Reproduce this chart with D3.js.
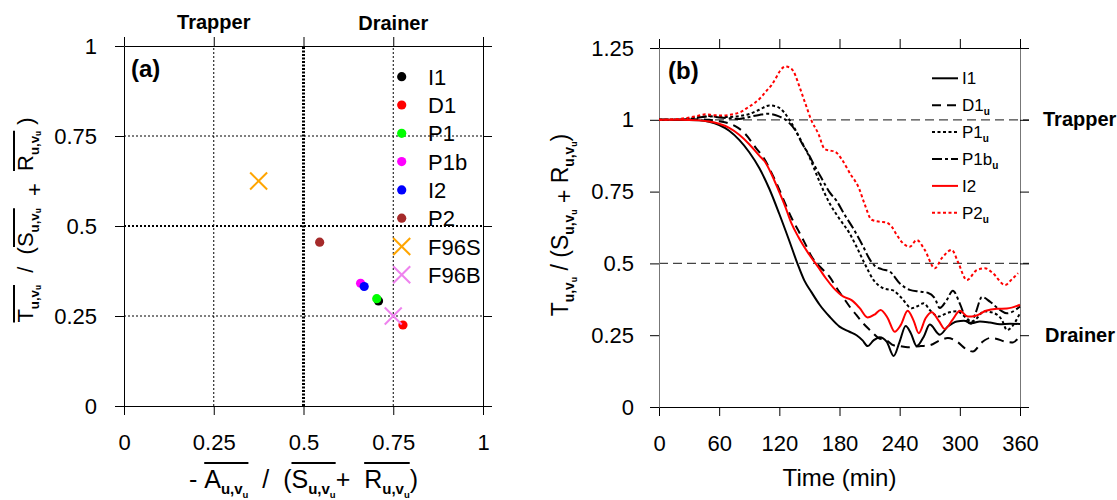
<!DOCTYPE html>
<html>
<head>
<meta charset="utf-8">
<script src="https://cdn.jsdelivr.net/npm/d3@7"></script>
<style>
  body { margin: 0; background: #fff; }
  svg { display: block; }
  text { white-space: pre; }
</style>
</head>
<body>
<svg id="chart" width="1117" height="500"></svg>
<script>
// ---------- panel (a): time-mean ratios per simulation ----------
const pointNames  = ["I1", "D1", "P1", "P1b", "I2", "P2", "F96S", "F96B"];
const pointX      = [0.709, 0.777, 0.704, 0.659, 0.669, 0.545, 0.375, 0.750];
const pointY      = [0.292, 0.225, 0.298, 0.341, 0.332, 0.455, 0.625, 0.250];
const pointColors = ["#000000", "#ff0000", "#00ff00", "#ff00ff", "#0000ff", "#a52a2a", "#ffa500", "#ee82ee"];
const pointShapes = ["dot", "dot", "dot", "dot", "dot", "dot", "cross", "cross"];
const scatterTicks      = [0, 0.25, 0.5, 0.75, 1];
const scatterTickLabels = ["0", "0.25", "0.5", "0.75", "1"];

// ---------- panel (b): ratio time series ----------
const i1Time  = [0,20,40,50,60,70,80,90,100,110,120,130,138,145,152,160,170,180,190,197,203,208,214,220,227,234,240,246,251,257,264,270,280,288,297,304,312,320,330,340,350,360];
const i1Value = [1.0,1.0,0.998,0.993,0.982,0.962,0.93,0.887,0.832,0.76,0.672,0.578,0.5,0.44,0.4,0.357,0.315,0.28,0.262,0.25,0.232,0.212,0.232,0.243,0.228,0.178,0.228,0.282,0.258,0.212,0.245,0.287,0.252,0.28,0.298,0.3,0.292,0.298,0.294,0.288,0.29,0.289];

const d1Time  = [0,20,40,50,60,70,76,86,96,106,112,119,126,132,139,146,152,160,170,178,184,190,197,204,211,219,227,234,240,248,255,261,270,280,288,297,307,313,322,330,336,345,353,360];
const d1Value = [1.0,1.0,1.002,1.0,0.995,0.987,0.978,0.951,0.905,0.858,0.817,0.765,0.707,0.66,0.614,0.567,0.525,0.49,0.454,0.41,0.38,0.35,0.32,0.29,0.266,0.24,0.232,0.215,0.212,0.208,0.21,0.212,0.215,0.232,0.24,0.228,0.2,0.193,0.225,0.24,0.238,0.228,0.225,0.25];

const p1Time  = [0,20,40,50,60,70,80,90,100,110,118,125,130,136,142,150,160,170,180,190,197,205,214,224,234,242,252,257,264,270,279,287,297,305,312,317,324,334,342,347,352,360];
const p1Value = [1.0,1.0,1.01,1.013,1.01,1.01,1.013,1.02,1.035,1.05,1.045,1.025,1.0,0.965,0.925,0.87,0.785,0.71,0.655,0.605,0.558,0.5,0.442,0.413,0.405,0.379,0.344,0.35,0.361,0.338,0.315,0.327,0.333,0.315,0.297,0.309,0.333,0.327,0.303,0.268,0.28,0.327];

const p1bTime  = [0,20,40,50,60,70,80,90,100,109,119,129,136,142,149,155,162,170,177,185,194,203,210,215,222,230,240,250,260,268,275,280,287,293,300,307,311,316,322,330,340,347,360];
const p1bValue = [1.0,1.0,1.008,1.012,1.008,1.005,1.003,1.01,1.017,1.021,1.013,0.992,0.963,0.922,0.881,0.841,0.797,0.748,0.718,0.67,0.62,0.563,0.515,0.492,0.48,0.472,0.431,0.408,0.402,0.398,0.379,0.345,0.373,0.405,0.36,0.3,0.29,0.33,0.383,0.367,0.338,0.326,0.35];

const i2Time  = [0,20,40,50,60,70,80,90,100,106,112,119,126,132,139,149,159,166,174,184,192,200,208,215,221,228,235,241,248,254,259,266,272,279,285,293,300,308,316,326,337,347,360];
const i2Value = [1.0,1.0,0.998,0.994,0.986,0.972,0.948,0.915,0.875,0.852,0.812,0.756,0.697,0.64,0.592,0.535,0.486,0.45,0.415,0.384,0.372,0.345,0.312,0.322,0.338,0.31,0.262,0.285,0.335,0.3,0.257,0.31,0.33,0.3,0.272,0.305,0.335,0.315,0.318,0.335,0.342,0.343,0.356];

const p2Time  = [0,15,29,40,46,55,62,70,76,83,89,96,102,107,112,117,121,126,132,136,139,146,152,159,165,170,175,182,187,191,195,199,205,212,220,226,232,237,242,250,257,265,275,282,292,298,307,317,325,333,345,352,358];
const p2Value = [1.0,1.002,1.007,1.015,1.019,1.016,1.015,1.017,1.021,1.03,1.044,1.06,1.079,1.1,1.12,1.148,1.172,1.186,1.178,1.155,1.126,1.056,0.998,0.951,0.899,0.893,0.89,0.864,0.835,0.81,0.79,0.765,0.707,0.652,0.645,0.643,0.628,0.60,0.575,0.558,0.581,0.547,0.483,0.518,0.547,0.506,0.442,0.477,0.483,0.466,0.425,0.445,0.466];

const timeTicks       = [0, 60, 120, 180, 240, 300, 360];
const timeTickLabels  = ["0", "60", "120", "180", "240", "300", "360"];
const ratioTicks      = [0, 0.25, 0.5, 0.75, 1, 1.25];
const ratioTickLabels = ["0", "0.25", "0.5", "0.75", "1", "1.25"];
const referenceLevels = [1, 0.5];

const seriesList = [
  { name: "I1",  sub: "",  t: i1Time,  v: i1Value,  color: "#000", dash: null },
  { name: "D1",  sub: "u", t: d1Time,  v: d1Value,  color: "#000", dash: "9,6" },
  { name: "P1",  sub: "u", t: p1Time,  v: p1Value,  color: "#000", dash: "3,2.5" },
  { name: "P1b", sub: "u", t: p1bTime, v: p1bValue, color: "#000", dash: "10,3,3,3" },
  { name: "I2",  sub: "",  t: i2Time,  v: i2Value,  color: "#ff0000", dash: null },
  { name: "P2",  sub: "u", t: p2Time,  v: p2Value,  color: "#ff0000", dash: "3,2.5" }
];

// ---------- drawing ----------
const FONT = "'Liberation Sans', Arial, Helvetica, sans-serif";
const TICK_FONT = 22;
const svg = d3.select("#chart").attr("font-family", FONT);
svg.append("rect").attr("width", 1117).attr("height", 500).attr("fill", "#fff");

// text made of pieces: main glyphs, bold subscripts, optional overbars
function mathLabel(parent, segs, cx, cy, angle, base, overGap) {
  const g = parent.append("g").attr("transform", `translate(${cx},${cy}) rotate(${angle})`);
  let x = 0;
  const placed = segs.map(s => {
    let size = base, dy = 0, weight = "normal";
    if (s.k === "sub")    { size = base * 0.6;  dy = base * 0.25; weight = "bold"; }
    if (s.k === "subsub") { size = base * 0.38; dy = base * 0.38; weight = "bold"; }
    if (s.dy) dy += s.dy;
    const el = g.append("text")
      .attr("y", dy).attr("font-size", size).attr("font-weight", weight)
      .attr("fill", "#000").style("white-space", "pre").text(s.t);
    const w = el.node().getComputedTextLength();
    const p = { el, x0: x, x1: x + w, o: s.o };
    x += w;
    return p;
  });
  const off = -x / 2;
  placed.forEach(p => p.el.attr("x", p.x0 + off));
  const groups = d3.group(placed.filter(p => p.o), p => p.o);
  groups.forEach(ps => {
    g.append("line")
      .attr("x1", d3.min(ps, p => p.x0) + off).attr("x2", d3.max(ps, p => p.x1) + off)
      .attr("y1", -overGap).attr("y2", -overGap)
      .attr("stroke", "#000").attr("stroke-width", 2);
  });
}

function sym(letter, o) {
  return [{ t: letter, o }, { t: "u,v", k: "sub", o }, { t: "u", k: "subsub", o }];
}

function styleAxis(sel, size) {
  sel.attr("font-family", FONT).attr("font-size", size);
  sel.selectAll("text").attr("fill", "#000");
  sel.selectAll("line").attr("stroke", "#000");
  sel.select(".domain").attr("stroke", "#000");
}

function frame(g, x, y, xt, xl, yt, yl, yPad, sideColor) {
  const [y0, y1] = y.range();
  const [x0, x1] = x.range();
  g.append("g").attr("transform", `translate(0,${y0})`)
    .call(d3.axisBottom(x).tickValues(xt).tickFormat((d, i) => xl[i]).tickSize(9).tickSizeOuter(0).tickPadding(19))
    .call(s => styleAxis(s, TICK_FONT));
  g.append("g").attr("transform", `translate(0,${y1})`)
    .call(d3.axisTop(x).tickValues(xt).tickFormat("").tickSize(9).tickSizeOuter(0))
    .call(s => styleAxis(s, TICK_FONT));
  g.append("g").attr("transform", `translate(${x0},0)`)
    .call(d3.axisLeft(y).tickValues(yt).tickFormat((d, i) => yl[i]).tickSize(9).tickSizeOuter(0).tickPadding(yPad))
    .call(s => { styleAxis(s, TICK_FONT); s.select(".domain").attr("stroke", sideColor); });
  g.append("g").attr("transform", `translate(${x1},0)`)
    .call(d3.axisRight(y).tickValues(yt).tickFormat("").tickSize(9).tickSizeOuter(0))
    .call(s => { styleAxis(s, TICK_FONT); s.select(".domain").attr("stroke", sideColor); });
}

function cross(g, cx, cy, r, color) {
  g.append("line").attr("x1", cx - r).attr("y1", cy - r).attr("x2", cx + r).attr("y2", cy + r)
    .attr("stroke", color).attr("stroke-width", 2);
  g.append("line").attr("x1", cx - r).attr("y1", cy + r).attr("x2", cx + r).attr("y2", cy - r)
    .attr("stroke", color).attr("stroke-width", 2);
}

// ===== panel (a) =====
const xA = d3.scaleLinear().domain([0, 1]).range([124, 483]);
const yA = d3.scaleLinear().domain([0, 1]).range([406, 46]);
const gA = svg.append("g");

// dotted guide lines
[0.25, 0.75].forEach(v => {
  gA.append("line").attr("x1", xA(v)).attr("x2", xA(v)).attr("y1", yA(0)).attr("y2", yA(1))
    .attr("stroke", "#000").attr("stroke-width", 1).attr("stroke-dasharray", "2,2");
  gA.append("line").attr("x1", xA(0)).attr("x2", xA(1)).attr("y1", yA(v)).attr("y2", yA(v))
    .attr("stroke", "#000").attr("stroke-width", 1).attr("stroke-dasharray", "2,2");
});
gA.append("line").attr("x1", xA(0)).attr("x2", xA(1)).attr("y1", yA(0.5)).attr("y2", yA(0.5))
  .attr("stroke", "#000").attr("stroke-width", 2).attr("stroke-dasharray", "2,2");
gA.append("line").attr("x1", xA(0.5)).attr("x2", xA(0.5)).attr("y1", yA(0)).attr("y2", yA(1))
  .attr("stroke", "#000").attr("stroke-width", 3).attr("stroke-dasharray", "2,1.5");

frame(gA, xA, yA, scatterTicks, scatterTickLabels, scatterTicks, scatterTickLabels, 18, "#000");

// points
pointNames.forEach((n, i) => {
  if (pointShapes[i] === "dot") {
    gA.append("circle").attr("cx", xA(pointX[i])).attr("cy", yA(pointY[i])).attr("r", 4.6).attr("fill", pointColors[i]);
  } else {
    cross(gA, xA(pointX[i]), yA(pointY[i]), 8.5, pointColors[i]);
  }
});

// legend
pointNames.forEach((n, i) => {
  const ly = 76.7 + i * 28.3;
  if (pointShapes[i] === "dot") {
    gA.append("circle").attr("cx", 401.7).attr("cy", ly).attr("r", 4.6).attr("fill", pointColors[i]);
  } else {
    cross(gA, 401.7, ly, 8.5, pointColors[i]);
  }
  gA.append("text").attr("x", 428).attr("y", ly + 8).attr("font-size", 22).attr("fill", "#000").text(n);
});

gA.append("text").attr("x", 131).attr("y", 77).attr("font-size", 24).attr("font-weight", "bold").text("(a)");
gA.append("text").attr("x", xA(0.25)).attr("y", 29).attr("text-anchor", "middle").attr("font-size", 20).attr("font-weight", "bold").text("Trapper");
gA.append("text").attr("x", xA(0.75)).attr("y", 30).attr("text-anchor", "middle").attr("font-size", 20).attr("font-weight", "bold").text("Drainer");

mathLabel(gA, [{ t: "- " }, ...sym("A", 1), { t: "  /  (" }, ...sym("S", 2), { t: "+  " }, ...sym("R", 3), { t: ")" }],
  303.5, 488, 0, 25, 25);
mathLabel(gA, [...sym("T", 1), { t: "  /  (" }, ...sym("S", 2), { t: "  +  ", dy: 9 }, ...sym("R", 3), { t: " )" }],
  33, 220, -90, 22, 19);

// ===== panel (b) =====
const xB = d3.scaleLinear().domain([0, 360]).range([659, 1020]);
const yB = d3.scaleLinear().domain([0, 1.25]).range([407, 48]);
const gB = svg.append("g");

referenceLevels.forEach(v => {
  gB.append("line").attr("x1", xB(0)).attr("x2", xB(360) + 9).attr("y1", yB(v)).attr("y2", yB(v))
    .attr("stroke", "#444").attr("stroke-width", 1.3).attr("stroke-dasharray", "9,5");
});

frame(gB, xB, yB, timeTicks, timeTickLabels, ratioTicks, ratioTickLabels, 16, "#777");

const line = d3.line().x(d => xB(d[0])).y(d => yB(d[1])).curve(d3.curveMonotoneX);
const drawOrder = ["I1", "D1", "P1", "P1b", "P2", "I2"];
drawOrder.forEach(name => {
  const s = seriesList.find(d => d.name === name);
  gB.append("path").datum(d3.zip(s.t, s.v)).attr("d", line)
    .attr("fill", "none").attr("stroke", s.color).attr("stroke-width", 2)
    .attr("stroke-dasharray", s.dash);
});

// legend
seriesList.forEach((s, i) => {
  const ly = 78.3 + i * 26.9;
  gB.append("line").attr("x1", 932).attr("x2", 958).attr("y1", ly).attr("y2", ly)
    .attr("stroke", s.color).attr("stroke-width", 2).attr("stroke-dasharray", s.dash);
  const t = gB.append("text").attr("x", 962).attr("y", ly + 6).attr("font-size", 17).attr("fill", "#000");
  t.append("tspan").text(s.name);
  if (s.sub) t.append("tspan").attr("font-size", 10).attr("font-weight", "bold").attr("dy", 4).text(s.sub);
});

gB.append("text").attr("x", 668).attr("y", 79).attr("font-size", 24).attr("font-weight", "bold").text("(b)");
gB.append("text").attr("x", 1043).attr("y", yB(1) + 6).attr("font-size", 20).attr("font-weight", "bold").text("Trapper");
gB.append("text").attr("x", 1045).attr("y", yB(0.25) + 7).attr("font-size", 20).attr("font-weight", "bold").text("Drainer");

gB.append("text").attr("x", (xB(0) + xB(360)) / 2).attr("y", 486).attr("text-anchor", "middle")
  .attr("font-size", 24).attr("fill", "#000").text("Time (min)");
mathLabel(gB, [...sym("T"), { t: " / (" }, ...sym("S"), { t: " + ", dy: 4 }, ...sym("R"), { t: ")" }],
  568, 225, -90, 23, 0);
</script>
</body>
</html>
